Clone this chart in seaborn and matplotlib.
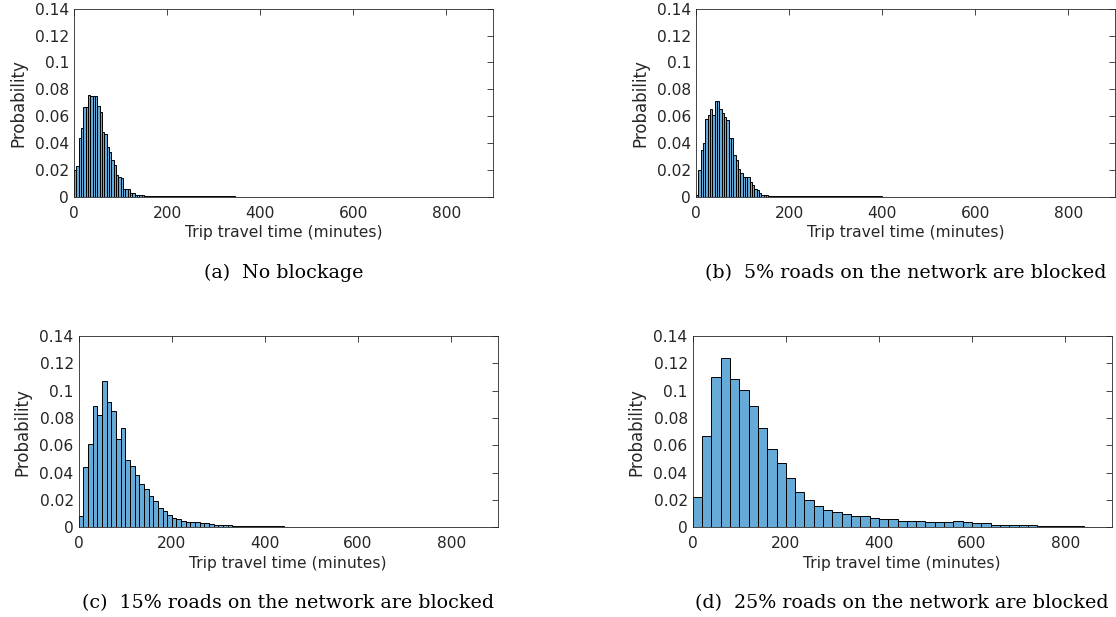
import numpy as np
import pandas as pd
import seaborn as sns
import matplotlib.pyplot as plt

## Data: probability per bin, bins start at 0 minutes
# (a) no blockage, 5 minute bins
bw_a = 5
prob_a = [0.020, 0.023, 0.0435, 0.051, 0.067, 0.067, 0.0755, 0.0752, 0.075, 0.075,
          0.0676, 0.063, 0.048, 0.047, 0.037, 0.0335, 0.027, 0.0236, 0.016, 0.015,
          0.0137, 0.006, 0.006, 0.006, 0.0025, 0.0025, 0.0015, 0.0012, 0.001, 0.0009,
          0.0008, 0.0008, 0.0007, 0.0007, 0.0006, 0.0006, 0.0006, 0.0005, 0.0005, 0.0005,
          0.0005, 0.0005, 0.0004, 0.0004, 0.0004, 0.0004, 0.0004, 0.0004, 0.0004, 0.0004,
          0.0004, 0.0004, 0.0004, 0.0004, 0.0003, 0.0003, 0.0003, 0.0003, 0.0003, 0.0003,
          0.0003, 0.0003, 0.0003, 0.0003, 0.0003, 0.0003, 0.0003, 0.0003, 0.0003]

# (b) 5% blocked, 5 minute bins
bw_b = 5
prob_b = [0.0015, 0.020, 0.035, 0.040, 0.058, 0.061, 0.065, 0.061, 0.071, 0.0713,
          0.065, 0.062, 0.0596, 0.057, 0.0435, 0.0435, 0.031, 0.027, 0.021, 0.0174,
          0.015, 0.015, 0.0144, 0.011, 0.0087, 0.006, 0.005, 0.0025, 0.0012, 0.001,
          0.0009, 0.0008, 0.0008, 0.0007, 0.0007, 0.0006, 0.0006, 0.0006, 0.0005, 0.0005,
          0.0005, 0.0005, 0.0005, 0.0004, 0.0004, 0.0004, 0.0004, 0.0004, 0.0004, 0.0004,
          0.0004, 0.0004, 0.0004, 0.0004, 0.0004, 0.0003, 0.0003, 0.0003, 0.0003, 0.0003,
          0.0003, 0.0003, 0.0003, 0.0003, 0.0003, 0.0003, 0.0003, 0.0003, 0.0003, 0.0003,
          0.0003, 0.0003, 0.0003, 0.0003, 0.0003, 0.0003, 0.0003, 0.0003, 0.0003, 0.0003]

# (c) 15% blocked, 10 minute bins
bw_c = 10
prob_c = [0.008, 0.044, 0.061, 0.0886, 0.082, 0.107, 0.0918, 0.085, 0.0645, 0.0725,
          0.049, 0.045, 0.038, 0.032, 0.028, 0.023, 0.019, 0.014, 0.012, 0.009,
          0.007, 0.006, 0.005, 0.004, 0.004, 0.004, 0.003, 0.003, 0.0025, 0.002,
          0.002, 0.0015, 0.0015, 0.0012, 0.0012, 0.001, 0.001, 0.001, 0.0009, 0.0009,
          0.0008, 0.0008, 0.0007, 0.0007, 0.0006, 0.0006, 0.0005]

# (d) 25% blocked, 20 minute bins
bw_d = 20
prob_d = [0.022, 0.067, 0.110, 0.1237, 0.1083, 0.1003, 0.089, 0.0725, 0.057, 0.047,
          0.036, 0.026, 0.020, 0.016, 0.013, 0.011, 0.010, 0.008, 0.008, 0.007,
          0.006, 0.006, 0.005, 0.005, 0.005, 0.004, 0.004, 0.004, 0.005, 0.004,
          0.003, 0.003, 0.002, 0.002, 0.002, 0.002, 0.002, 0.001, 0.001, 0.001,
          0.001, 0.001, 0.0005]

captions = ["(a)  No blockage",
            "(b)  5% roads on the network are blocked",
            "(c)  15% roads on the network are blocked",
            "(d)  25% roads on the network are blocked"]
xticks = [0, 200, 400, 600, 800]
yticks = [0, 0.02, 0.04, 0.06, 0.08, 0.1, 0.12, 0.14]
ytick_labels = ["0", "0.02", "0.04", "0.06", "0.08", "0.1", "0.12", "0.14"]

sns.set_style("white")
plt.rcParams['font.family'] = ['DejaVu Sans']

W, H = 1116, 617
fig = plt.figure(figsize=(W / 100, H / 100), dpi=100)

# axes boxes in pixels: left, top, right, bottom
boxes = [(74, 8.8, 493, 196.7),
         (696, 8.8, 1115, 196.7),
         (78.7, 336, 497.7, 527.4),
         (692.7, 336, 1111.7, 527.4)]
caption_y = [273, 273, 603, 603]

panels = [(prob_a, bw_a), (prob_b, bw_b), (prob_c, bw_c), (prob_d, bw_d)]
grey = '#262626'

for i, (prob, bw) in enumerate(panels):
    l, t, r, b = boxes[i]
    ax = fig.add_axes([l / W, 1 - b / H, (r - l) / W, (b - t) / H])
    n = len(prob)
    mids = np.arange(n) * bw + bw / 2
    df = pd.DataFrame({'mid': mids, 'p': prob})
    sns.histplot(data=df, x='mid', weights='p', binwidth=bw, binrange=(0, n * bw),
                 stat='count', color='#66aad7', alpha=1, edgecolor='black',
                 linewidth=0.7, ax=ax)
    ax.set_xlim(0, 900)
    ax.set_ylim(0, 0.14)
    ax.set_xticks(xticks)
    ax.set_yticks(yticks)
    ax.set_yticklabels(ytick_labels)
    ax.tick_params(direction='in', length=4, width=0.6, colors=grey, labelsize=11.2,
                   top=True, right=True, labelcolor=grey)
    ax.tick_params(axis='x', pad=6.5)
    ax.tick_params(axis='y', pad=3.6)
    for s in ax.spines.values():
        s.set_color(grey)
        s.set_linewidth(0.6)
    ax.set_xlabel('Trip travel time (minutes)', fontsize=11.2, color=grey, labelpad=3)
    ax.set_ylabel('Probability', fontsize=12, color=grey)
    ax.yaxis.set_label_coords(-47 / (r - l), 0.5)
    fig.text((l + r) / 2 / W, 1 - caption_y[i] / H, captions[i], ha='center', va='center',
             fontsize=13.7, family=['DejaVu Serif'], color='black')

fig.savefig('out.png', dpi=100)
